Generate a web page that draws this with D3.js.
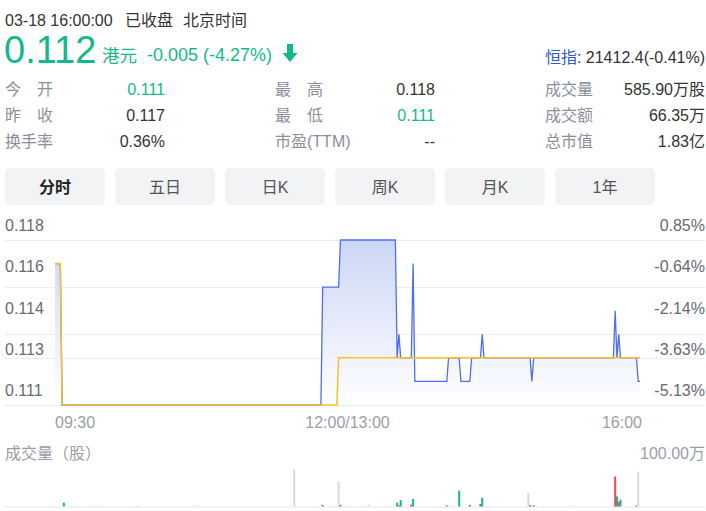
<!DOCTYPE html>
<html><head><meta charset="utf-8">
<script src="https://cdn.jsdelivr.net/npm/d3@7"></script>
<style>
body{margin:0;background:#fff}
svg{display:block;font-family:"Liberation Sans",Arial,"Noto Sans CJK SC",sans-serif}
</style>
</head><body>
<svg id="c" width="706" height="511"></svg>
<script>
// ---------- data ----------
const prevClose = 0.117;
const priceTimes = ["09:30","09:33","09:34","12:00","13:01","13:10","13:11","13:42","13:43","13:44","13:45","13:51","13:52","13:53","14:11","14:12","14:18","14:19","14:24","14:25","14:30","14:31","14:32","14:58","14:59","15:00","15:45","15:46","15:47","15:48","15:49","15:58","15:59","16:00"];
const priceValues = [0.117,0.117,0.111,0.111,0.116,0.116,0.118,0.118,0.113,0.114,0.113,0.113,0.117,0.112,0.112,0.113,0.113,0.112,0.112,0.113,0.113,0.114,0.113,0.113,0.112,0.113,0.113,0.115,0.113,0.114,0.113,0.113,0.112,0.112];
const avgTimes = ["09:30","09:33","09:34","13:09","13:10","16:00"];
const avgValues = [0.117,0.117,0.111,0.111,0.113,0.113];

const volTimes = ["09:35","09:53","10:16","10:49","11:45","13:01","13:10","13:11","13:27","13:43","13:44","13:45","13:51","13:52","14:11","14:13","14:18","14:24","14:30","14:31","14:57","14:58","15:00","15:22","15:46","15:47","15:48","15:49","15:58","15:59"];
const volValues = [10,2,2,2,99,4,66,4,5,10,3,17,5,20,3,2,42,4,7,23,36,4,3,2,80,27,13,18,3,93]; // 万股
const volDirs = ["d","f","f","f","f","u","f","u","f","d","u","d","u","d","u","f","d","u","u","d","f","d","u","f","u","d","u","d","d","f"];

const priceTickValues = [0.118,0.11625,0.1145,0.11275,0.111];
const priceTickLabels = ["0.118","0.116","0.114","0.113","0.111"];
const pctTickLabels = ["0.85%","-0.64%","-2.14%","-3.63%","-5.13%"];
const timeTickLabels = ["09:30","12:00/13:00","16:00"];
const volMaxLabel = "100.00万";
const volMax = 100;

const tabLabels = ["分时","五日","日K","周K","月K","1年"];
const statLabels1 = [["今","开"],["昨","收"],["换手率"]];
const statValues1 = ["0.111","0.117","0.36%"];
const statLabels2 = [["最","高"],["最","低"],["市盈(TTM)"]];
const statValues2 = ["0.118","0.111","--"];
const statLabels3 = ["成交量","成交额","总市值"];
const statValues3 = ["585.90万股","66.35万","1.83亿"];

// ---------- styles ----------
const GREEN = "#13b88d", RED = "#f2495b", GRAYBAR = "#d8dade";
const LABEL = "#8a8f99", DARK = "#333";

const svg = d3.select("#c");

function minuteIndex(s){
  const [h,m] = s.split(":").map(Number);
  const mins = h*60+m;
  return mins <= 720 ? mins-570 : mins-780+150;
}

// ---------- header ----------
const hdr = svg.append("g");
hdr.append("text").attr("x",5).attr("y",26).attr("font-size",16).attr("fill",DARK).text("03-18 16:00:00");
hdr.append("text").attr("x",125).attr("y",26).attr("font-size",16).attr("fill",DARK).text("已收盘");
hdr.append("text").attr("x",183).attr("y",26).attr("font-size",16).attr("fill",DARK).text("北京时间");

hdr.append("text").attr("x",4).attr("y",63).attr("font-size",38).attr("fill",GREEN).text("0.112");
hdr.append("text").attr("x",102).attr("y",62).attr("font-size",17.5).attr("fill",GREEN).text("港元");
hdr.append("text").attr("x",147).attr("y",61).attr("font-size",18).attr("fill",GREEN).text("-0.005 (-4.27%)");
// down arrow
hdr.append("path")
  .attr("d","M287,44 L293,44 L293,53 L297.5,53 L290,62 L282.5,53 L287,53 Z")
  .attr("fill",GREEN);

const hs = hdr.append("text").attr("x",705).attr("y",63).attr("font-size",16).attr("text-anchor","end");
hs.append("tspan").attr("fill","#2e5bc8").text("恒指");
hs.append("tspan").attr("fill",DARK).text(": 21412.4(-0.41%)");

const rowY = [95,121,147];
function drawLabel(lbl, x0, y){
  if (Array.isArray(lbl) && lbl.length===2){
    hdr.append("text").attr("x",x0).attr("y",y).attr("font-size",16).attr("fill",LABEL).text(lbl[0]);
    hdr.append("text").attr("x",x0+32).attr("y",y).attr("font-size",16).attr("fill",LABEL).text(lbl[1]);
  } else {
    hdr.append("text").attr("x",x0).attr("y",y).attr("font-size",16).attr("fill",LABEL).text(Array.isArray(lbl)?lbl[0]:lbl);
  }
}
statLabels1.forEach((l,i)=>drawLabel(l,5,rowY[i]));
statLabels2.forEach((l,i)=>drawLabel(l,275,rowY[i]));
statLabels3.forEach((l,i)=>drawLabel(l,545,rowY[i]));
const col1Colors=[GREEN,DARK,DARK], col2Colors=[DARK,GREEN,DARK];
statValues1.forEach((v,i)=>hdr.append("text").attr("x",165).attr("y",rowY[i]).attr("font-size",16).attr("text-anchor","end").attr("fill",col1Colors[i]).text(v));
statValues2.forEach((v,i)=>hdr.append("text").attr("x",435).attr("y",rowY[i]).attr("font-size",16).attr("text-anchor","end").attr("fill",col2Colors[i]).text(v));
statValues3.forEach((v,i)=>hdr.append("text").attr("x",705).attr("y",rowY[i]).attr("font-size",16).attr("text-anchor","end").attr("fill",DARK).text(v));

// ---------- tabs ----------
const tabX = d3.scaleBand().domain(tabLabels).range([5,655]).paddingInner(10/110).paddingOuter(0);
const tabs = svg.append("g");
tabLabels.forEach((t,i)=>{
  tabs.append("rect").attr("x",tabX(t)).attr("y",168).attr("width",tabX.bandwidth()).attr("height",37).attr("rx",5).attr("fill","#f2f3f5");
  tabs.append("text").attr("x",tabX(t)+tabX.bandwidth()/2).attr("y",192.5).attr("text-anchor","middle")
    .attr("font-size",16).attr("font-weight",i===0?"bold":"normal").attr("fill",i===0?"#222":"#555").text(t);
});

// ---------- price chart ----------
const x = d3.scaleLinear().domain([0,330]).range([55,640]);
const y = d3.scaleLinear().domain([0.111,0.118]).range([405,240]);

const defs = svg.append("defs");
const grad = defs.append("linearGradient").attr("id","fillGrad").attr("gradientUnits","userSpaceOnUse")
  .attr("x1",0).attr("y1",y(0.118)).attr("x2",0).attr("y2",y(0.111));
grad.append("stop").attr("offset","0%").attr("stop-color","#ccd6f6");
grad.append("stop").attr("offset","100%").attr("stop-color","#ffffff");

const grid = svg.append("g");
priceTickLabels.forEach(l=>{
  const gy = Math.round(y(parseFloat(l)))+0.5;
  grid.append("line").attr("x1",5).attr("x2",705).attr("y1",gy).attr("y2",gy).attr("stroke","#ececec").attr("stroke-width",1.2);
});
priceTickValues.forEach((v,i)=>{
  grid.append("text").attr("x",5).attr("y",y(v)-9).attr("font-size",16).attr("fill","#666a72").text(priceTickLabels[i]);
  grid.append("text").attr("x",705).attr("y",y(v)-9).attr("font-size",16).attr("text-anchor","end").attr("fill","#666a72").text(pctTickLabels[i]);
});

const pts = priceTimes.map((t,i)=>({t:minuteIndex(t), v:priceValues[i]}));
const avgPts = avgTimes.map((t,i)=>({t:minuteIndex(t), v:avgValues[i]}));

svg.append("path").datum(pts)
  .attr("d", d3.area().x(d=>x(d.t)).y0(y(0.111)).y1(d=>y(d.v)))
  .attr("fill","url(#fillGrad)");
svg.append("path").datum(pts)
  .attr("d", d3.line().x(d=>x(d.t)).y(d=>y(d.v)))
  .attr("fill","none").attr("stroke","#4d6ff0").attr("stroke-width",1.3);
svg.append("path").datum(avgPts)
  .attr("d", d3.line().x(d=>x(d.t)).y(d=>y(d.v)))
  .attr("fill","none").attr("stroke","#f6c02c").attr("stroke-width",1.5);

// time labels
svg.append("text").attr("x",55).attr("y",428).attr("font-size",16).attr("fill","#9a9ea6").text(timeTickLabels[0]);
svg.append("text").attr("x",(x.range()[0]+x.range()[1])/2).attr("y",428).attr("font-size",16).attr("text-anchor","middle").attr("fill","#9a9ea6").text(timeTickLabels[1]);
svg.append("text").attr("x",642).attr("y",428).attr("font-size",16).attr("text-anchor","end").attr("fill","#9a9ea6").text(timeTickLabels[2]);

// ---------- volume ----------
svg.append("text").attr("x",5).attr("y",459).attr("font-size",16).attr("fill","#9a9ea6").text("成交量（股）");
svg.append("text").attr("x",705).attr("y",459).attr("font-size",16).attr("text-anchor","end").attr("fill","#9a9ea6").text(volMaxLabel);

const vy = d3.scaleLinear().domain([0,volMax]).range([506.5,469]);
svg.append("line").attr("x1",5).attr("x2",705).attr("y1",507).attr("y2",507).attr("stroke","#e6e6e6").attr("stroke-width",1);
const dirColor = {u:RED, d:GREEN, f:GRAYBAR};
svg.append("g").selectAll("rect").data(volTimes.map((t,i)=>({t:minuteIndex(t),v:volValues[i],d:volDirs[i]})))
  .join("rect")
  .attr("x",d=>x(d.t)-1).attr("width",2)
  .attr("y",d=>vy(d.v)).attr("height",d=>vy(0)-vy(d.v))
  .attr("fill",d=>dirColor[d.d]);
</script>
</body></html>
